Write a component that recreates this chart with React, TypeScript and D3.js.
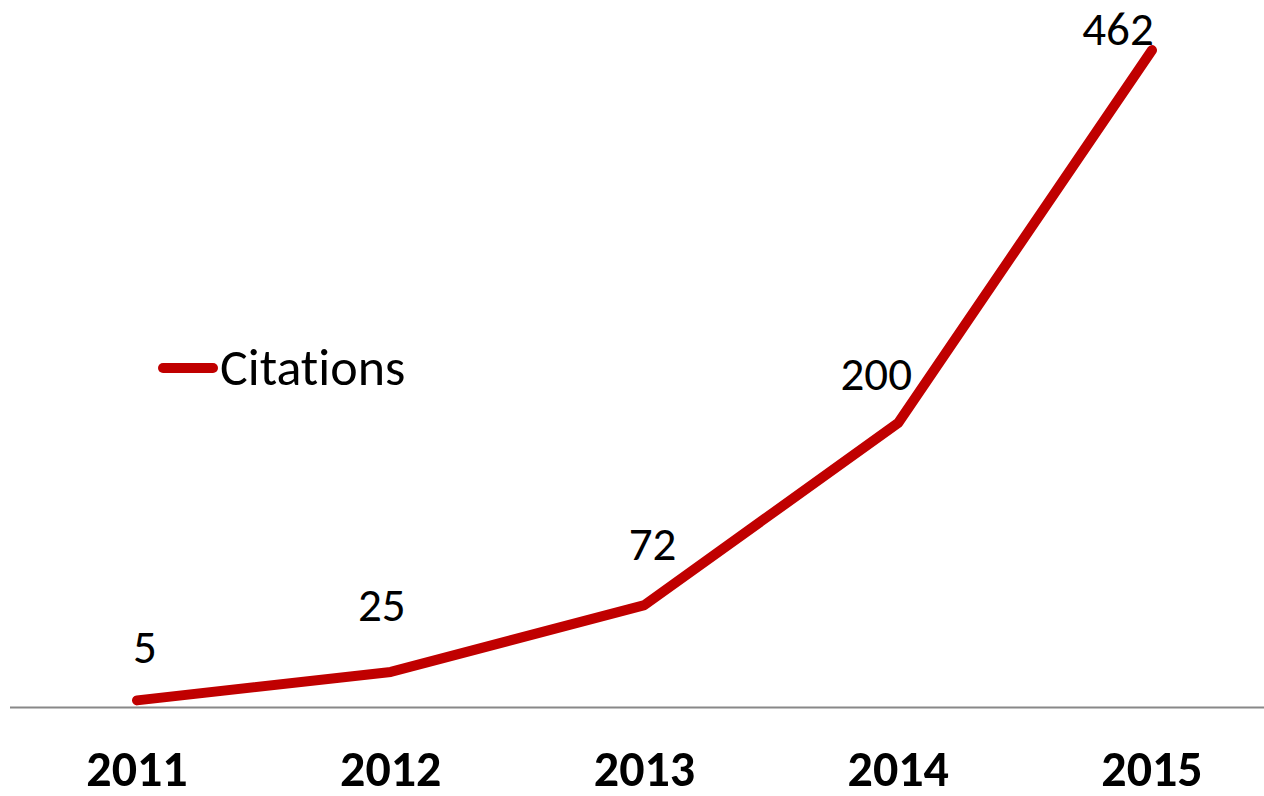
import React from "react";
import * as d3 from "d3";

const years = ["2011", "2012", "2013", "2014", "2015"];
const citations = [5, 25, 72, 200, 462];
const labelDx = [8, -9, 8, -22, -34];
const labelDy = [-37, -51, -45, -33, -5];

const W = 1264;
const H = 796;
const FONT = "Carlito, Calibri, Lato, 'Open Sans', sans-serif";

export default function App() {
  const x = d3.scalePoint<string>().domain(years).range([137, 1152]);
  const y = d3.scaleLinear().domain([0, 500]).range([707.5, -4]);
  const line = d3
    .line<number>()
    .x((_, i) => x(years[i]) as number)
    .y((d) => y(d));
  return (
    <svg
      width={W}
      height={H}
      style={{ position: "absolute", left: 0, top: 0, background: "#fff", fontVariantLigatures: "none" }}
    >
      <line x1={10} x2={W} y1={y(0)} y2={y(0)} stroke="#888" strokeWidth={2} />
      <path
        d={line(citations) || ""}
        fill="none"
        stroke="#C00000"
        strokeWidth={10}
        strokeLinecap="round"
        strokeLinejoin="round"
      />
      {citations.map((v, i) => (
        <text
          key={"l" + i}
          x={(x(years[i]) as number) + labelDx[i]}
          y={y(v) + labelDy[i]}
          textAnchor="middle"
          fontFamily={FONT}
          fontSize={47}
          fill="#000"
        >
          {v}
        </text>
      ))}
      {years.map((yr) => (
        <text
          key={yr}
          x={x(yr) as number}
          y={786}
          textAnchor="middle"
          fontFamily={FONT}
          fontWeight="bold"
          fontSize={50}
          fill="#000"
        >
          {yr}
        </text>
      ))}
      <line
        x1={163}
        x2={213}
        y1={368}
        y2={368}
        stroke="#C00000"
        strokeWidth={10}
        strokeLinecap="round"
      />
      <text x={220} y={385} fontFamily={FONT} fontSize={52} fill="#000" style={{ fontVariantLigatures: "none" }}>
        Citations
      </text>
    </svg>
  );
}
